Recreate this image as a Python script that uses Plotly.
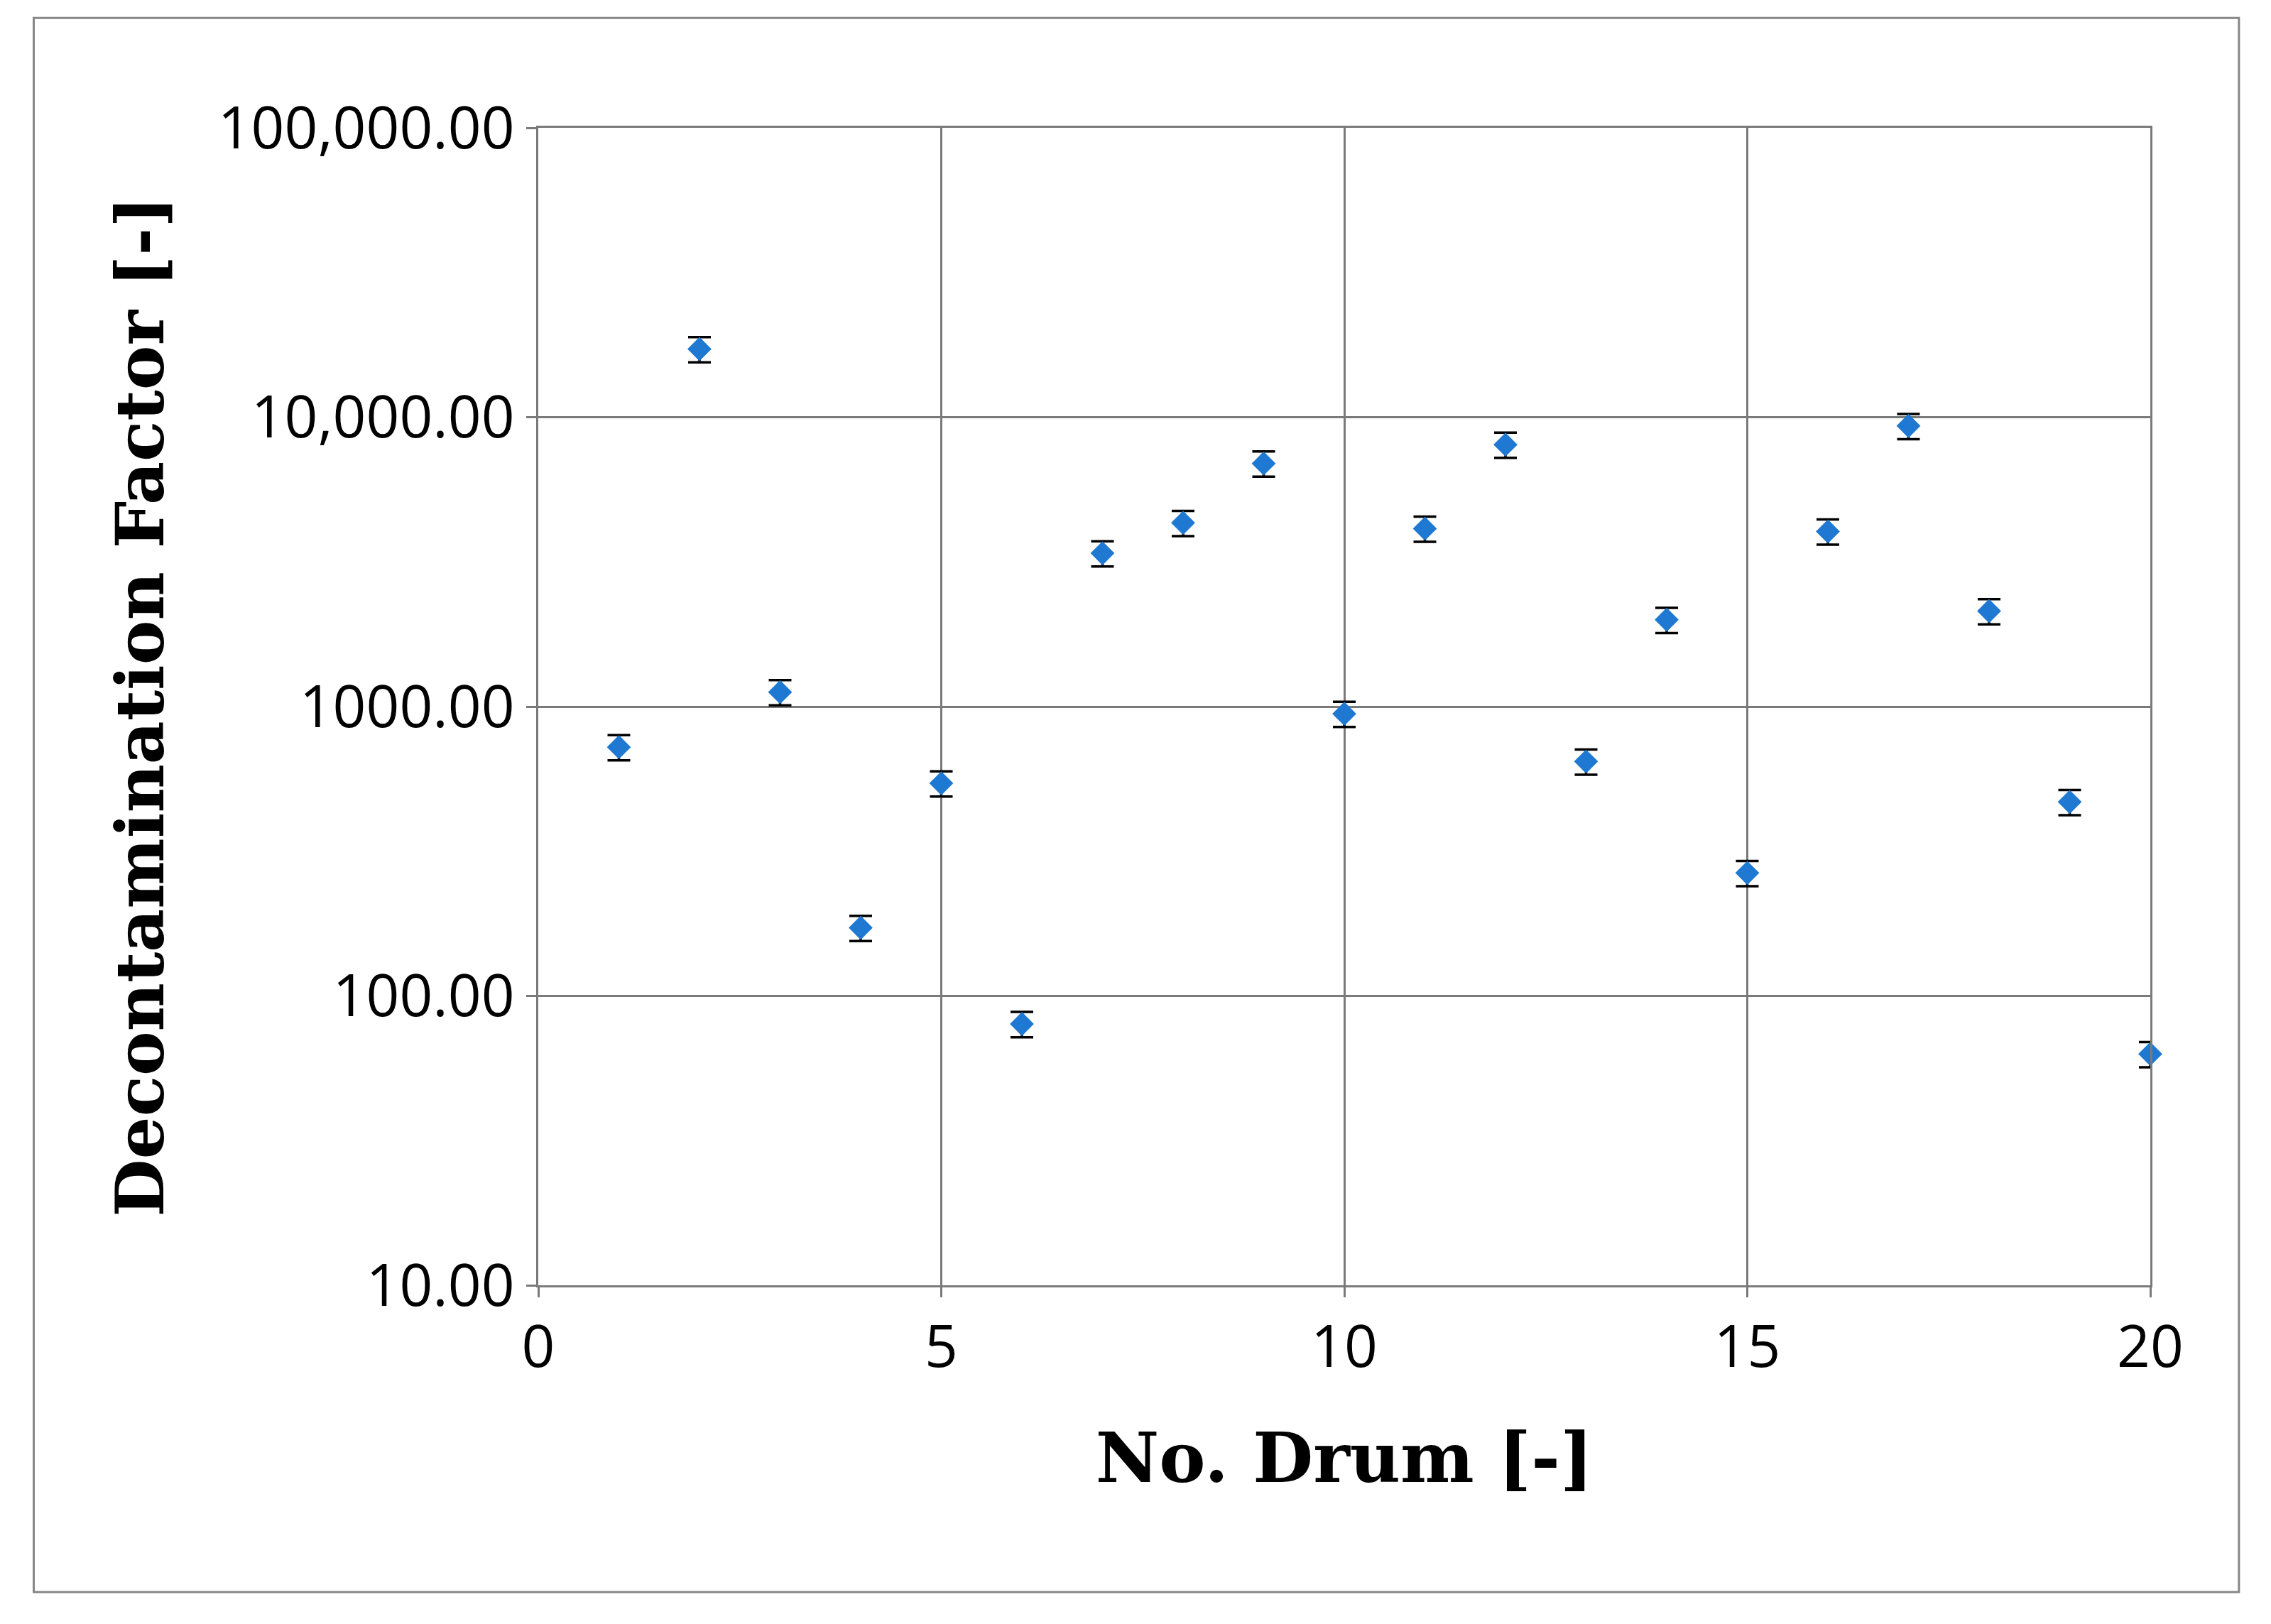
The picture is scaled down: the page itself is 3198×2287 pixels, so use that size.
import plotly.graph_objects as go

drums = list(range(1, 21))
df_values = [724, 17200, 1122, 172, 543, 80, 3388, 4315, 6920, 944,
             4120, 8035, 646, 1995, 266, 4027, 9330, 2138, 468, 63]
err_frac = 0.10
errors = [v * err_frac for v in df_values]
y_tickvals = [10, 100, 1000, 10000, 100000]
y_ticktext = ["10.00", "100.00", "1000.00", "10,000.00", "100,000.00"]

fig = go.Figure(go.Scatter(
    x=drums, y=df_values, mode="markers", cliponaxis=False,
    marker=dict(symbol="diamond", size=26, color="#1F78D1"),
    error_y=dict(type="data", array=errors, color="black", thickness=3.5, width=16),
))

axis_common = dict(showline=True, mirror=True, linecolor="#7a7a7a", linewidth=3,
                   gridcolor="#7a7a7a", gridwidth=3, ticks="outside",
                   tickcolor="#7a7a7a", ticklen=14, tickwidth=3, zeroline=False,
                   tickfont=dict(family="Open Sans", size=82, color="black"))

fig.update_xaxes(range=[0, 20], tickvals=[0, 5, 10, 15, 20],
                 title=dict(text="No. Drum [-]", standoff=70,
                            font=dict(family="DejaVu Serif", size=98, color="black", weight="bold")),
                 **axis_common)
fig.update_yaxes(type="log", range=[1, 5], tickvals=y_tickvals, ticktext=y_ticktext,
                 title=dict(text="Decontamination Factor [-]", standoff=45,
                            font=dict(family="DejaVu Serif", size=94, color="black", weight="bold")),
                 **axis_common)

fig.add_shape(type="rect", xref="paper", yref="paper",
              x0=-0.313, x1=1.055, y0=-0.265, y1=1.095,
              line=dict(color="#878787", width=3))

fig.update_layout(width=3198, height=2287, plot_bgcolor="white", paper_bgcolor="white",
                  margin=dict(l=750, r=178, t=172, b=485), showlegend=False)
fig.write_html("out.html")
